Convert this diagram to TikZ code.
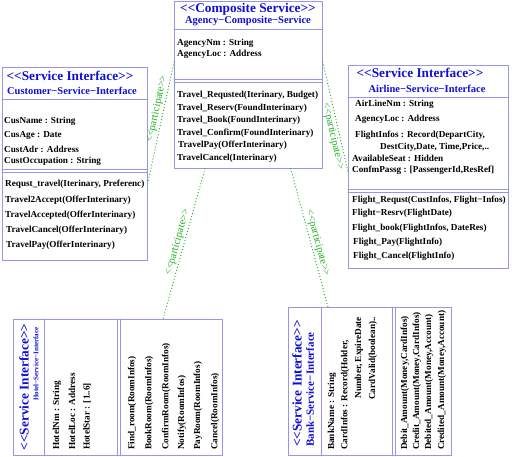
\documentclass[tikz,border=0pt]{standalone}
\usepackage{fontspec}
\setmainfont{Liberation Serif}[Ligatures=TeXOff]
\usepackage{xcolor}
\usepackage{tikz}
\usetikzlibrary{calc}

\definecolor{boxline}{RGB}{150,150,230}
\definecolor{hdrblue}{RGB}{15,15,215}
\definecolor{partgreen}{RGB}{30,175,30}

\begin{document}
\begin{tikzpicture}[
  x=1pt, y=-1pt,
  line cap=round,
  line join=round,
  ifbox/.style={draw=boxline, line width=0.8pt, inner sep=0pt, anchor=north west},
  sepline/.style={draw=boxline, line width=0.8pt},
  hdr/.style={text=hdrblue, font=\fontsize{13.3}{14}\selectfont\bfseries, inner sep=0pt},
  subhdr/.style={text=hdrblue, font=\fontsize{10.5}{12}\selectfont\bfseries, inner sep=0pt},
  item/.style={font=\fontsize{9.2}{11}\selectfont\bfseries, inner sep=0pt, anchor=west},
  ritem/.style={item, rotate=90},
  part/.style={draw=partgreen, line width=1.2pt, dash pattern=on 0.1pt off 3pt},
  partlbl/.style={text=partgreen, font=\fontsize{10.5}{11}\selectfont, sloped, inner sep=1.5pt}
]
  \useasboundingbox (0,0) rectangle (512,456);

  % Boxes
  \node[ifbox, minimum width=148pt, minimum height=167pt] (comp)  at (174,1)   {};
  \node[ifbox, minimum width=145pt, minimum height=193pt] (cust)  at (2,67)    {};
  \node[ifbox, minimum width=160pt, minimum height=203pt] (air)   at (348,65)  {};
  \node[ifbox, minimum width=209pt, minimum height=136pt] (hotel) at (13,319)  {};
  \node[ifbox, minimum width=163pt, minimum height=148pt] (bank)  at (288,307) {};

  % Compartment lines
  \draw[sepline] ([yshift=-28pt]comp.north west) -- ([yshift=-28pt]comp.north east);
  \draw[sepline] ([yshift=-78pt]comp.north west) -- ([yshift=-78pt]comp.north east);
  \draw[sepline] ([yshift=-81pt]comp.north west) -- ([yshift=-81pt]comp.north east);

  \draw[sepline] ([yshift=-32pt]cust.north west) -- ([yshift=-32pt]cust.north east);
  \draw[sepline] ([yshift=-102pt]cust.north west) -- ([yshift=-102pt]cust.north east);
  \draw[sepline] ([yshift=-105pt]cust.north west) -- ([yshift=-105pt]cust.north east);

  \draw[sepline] ([yshift=-32pt]air.north west) -- ([yshift=-32pt]air.north east);
  \draw[sepline] ([yshift=-124pt]air.north west) -- ([yshift=-124pt]air.north east);
  \draw[sepline] ([yshift=-127pt]air.north west) -- ([yshift=-127pt]air.north east);

  \draw[sepline] ([xshift=31pt]hotel.north west) -- ([xshift=31pt]hotel.south west);
  \draw[sepline] ([xshift=104pt]hotel.north west) -- ([xshift=104pt]hotel.south west);
  \draw[sepline] ([xshift=107pt]hotel.north west) -- ([xshift=107pt]hotel.south west);

  \draw[sepline] ([xshift=33pt]bank.north west) -- ([xshift=33pt]bank.south west);
  \draw[sepline] ([xshift=104pt]bank.north west) -- ([xshift=104pt]bank.south west);
  \draw[sepline] ([xshift=107pt]bank.north west) -- ([xshift=107pt]bank.south west);

  % Composite service
  \node[hdr]    (comp-h)  at (248,9)  {<<Composite Service>>};
  \node[subhdr] (comp-n)  at (248,21) {Agency−Composite−Service};
  \node[item]   (comp-a1) at (177,43) {AgencyNm : String};
  \node[item]   (comp-a2) at (177,54) {AgencyLoc : Address};
  \node[item]   (comp-m1) at (177,95)  {Travel\_Requsted(Iterinary, Budget)};
  \node[item]   (comp-m2) at (177,108) {Travel\_Reserv(FoundInterinary)};
  \node[item]   (comp-m3) at (177,120) {Travel\_Book(FoundInterinary)};
  \node[item]   (comp-m4) at (177,133) {Travel\_Confirm(FoundInterinary)};
  \node[item]   (comp-m5) at (178,145) {TravelPay(OfferInterinary)};
  \node[item]   (comp-m6) at (177,158) {TravelCancel(Interinary)};

  % Customer interface
  \node[hdr]    (cust-h)  at (70,76) {<<Service Interface>>};
  \node[subhdr] (cust-n)  at (72,91) {Customer−Service−Interface};
  \node[item]   (cust-a1) at (4,121) {CusName : String};
  \node[item]   (cust-a2) at (4,135) {CusAge : Date};
  \node[item]   (cust-a3) at (4,149) {CustAdr : Address};
  \node[item]   (cust-a4) at (4,161) {CustOccupation : String};
  \node[item]   (cust-m1) at (5,184) {Requst\_travel(Iterinary, Preferenc)};
  \node[item]   (cust-m2) at (5,200) {Travel2Accept(OfferInterinary)};
  \node[item]   (cust-m3) at (5,215) {TravelAccepted(OfferInterinary)};
  \node[item]   (cust-m4) at (6,230) {TravelCancel(OfferInterinary)};
  \node[item]   (cust-m5) at (6,245) {TravelPay(OfferInterinary)};

  % Airline interface
  \node[hdr]    (air-h)  at (420,73) {<<Service Interface>>};
  \node[subhdr] (air-n)  at (427,89) {Airline−Service−Interface};
  \node[item]   (air-a1) at (355,104) {AirLineNm : String};
  \node[item]   (air-a2) at (355,119) {AgencyLoc : Address};
  \node[item]   (air-a3) at (355,135) {FlightInfos : Record(DepartCity,};
  \node[item]   (air-a4) at (380,147) {DestCity,Date, Time,Price,..};
  \node[item]   (air-a5) at (352,158) {AvailableSeat : Hidden};
  \node[item]   (air-a6) at (352,170) {ConfmPassg : [PassengerId,ResRef]};
  \node[item]   (air-m1) at (352,200) {Flight\_Requst(CustInfos, Flight−Infos)};
  \node[item]   (air-m2) at (352,213) {Flight−Resrv(FlightDate)};
  \node[item]   (air-m3) at (352,228) {Flight\_book(FlightInfos, DateRes)};
  \node[item]   (air-m4) at (353,242) {Flight\_Pay(FlightInfo)};
  \node[item]   (air-m5) at (353,256) {Flight\_Cancel(FlightInfo)};

  % Hotel interface (turned)
  \node[hdr, rotate=90] (hotel-h) at (24,387) {<<Service Interface>>};
  \node[subhdr, font=\fontsize{7}{8}\selectfont\bfseries, rotate=90] (hotel-n) at (36,364) {Hotel−Service−Interface};
  \node[ritem] (hotel-a1) at (57,450) {HotelNm : String};
  \node[ritem] (hotel-a2) at (72,450) {HotelLoc : Address};
  \node[ritem] (hotel-a3) at (87,450) {HotelStar : [1..6]};
  \node[ritem] (hotel-m1) at (132,450) {Find\_room(RoomInfos)};
  \node[ritem] (hotel-m2) at (149,450) {BookRoom(RoomInfos)};
  \node[ritem] (hotel-m3) at (166,450) {ConfirmRoom(RoomInfos)};
  \node[ritem] (hotel-m4) at (182,450) {Notify(RoomInfos)};
  \node[ritem] (hotel-m5) at (198,450) {PayRoom(RoomInfos)};
  \node[ritem] (hotel-m6) at (215,450) {Cancel(RoomInfos)};

  % Bank interface (turned)
  \node[hdr, rotate=90, anchor=west] (bank-h) at (297,447) {<<Service Interface>>};
  \node[subhdr, font=\fontsize{11}{12}\selectfont\bfseries, rotate=90, anchor=west] (bank-n) at (310,447) {Bank−Service−Interface};
  \node[ritem] (bank-a1) at (332,450) {BankName : String};
  \node[ritem] (bank-a2) at (345,450) {CardInfos : Record(Holder,};
  \node[ritem, anchor=east] (bank-a3) at (359,317) {Number, ExpireDate};
  \node[ritem, anchor=east] (bank-a4) at (373,317) {CardValid(boolean)..};
  \node[ritem] (bank-m1) at (405,450) {Debit\_Amount(Money,CardInfos)};
  \node[ritem] (bank-m2) at (417,450) {Credit\_Amount(Money,CardInfos)};
  \node[ritem] (bank-m3) at (429,450) {Debited\_Amount(Money,Account)};
  \node[ritem] (bank-m4) at (442,450) {Credited\_Amount(Money,Account)};

  % Ends of the participate links
  \coordinate (p1s) at ([yshift=-61pt]comp.north west);
  \coordinate (p1e) at ([yshift=-116pt]cust.north east);
  \coordinate (p2s) at ([yshift=-61pt]comp.north east);
  \coordinate (p2e) at ([yshift=-107pt]air.north west);
  \coordinate (p3s) at ([xshift=31pt]comp.south west);
  \coordinate (p3e) at ([xshift=150pt]hotel.north west);
  \coordinate (p4s) at ([xshift=-32pt]comp.south east);
  \coordinate (p4e) at ([xshift=40pt]bank.north west);

  % Participate links
  \draw[part] (p1s) -- node[partlbl, above, pos=0.4] (p1lbl) {<<participate>>} (p1e);
  \draw[part] (p2s) -- node[partlbl, below, pos=0.66] (p2lbl) {<<participate>>} (p2e);
  \draw[part] (p3s) -- node[partlbl, above, pos=0.5] (p3lbl) {<<participate>>} (p3e);
  \draw[part] (p4s) -- node[partlbl, above, pos=0.55] (p4lbl) {<<participate>>} (p4e);
\end{tikzpicture}
\end{document}
